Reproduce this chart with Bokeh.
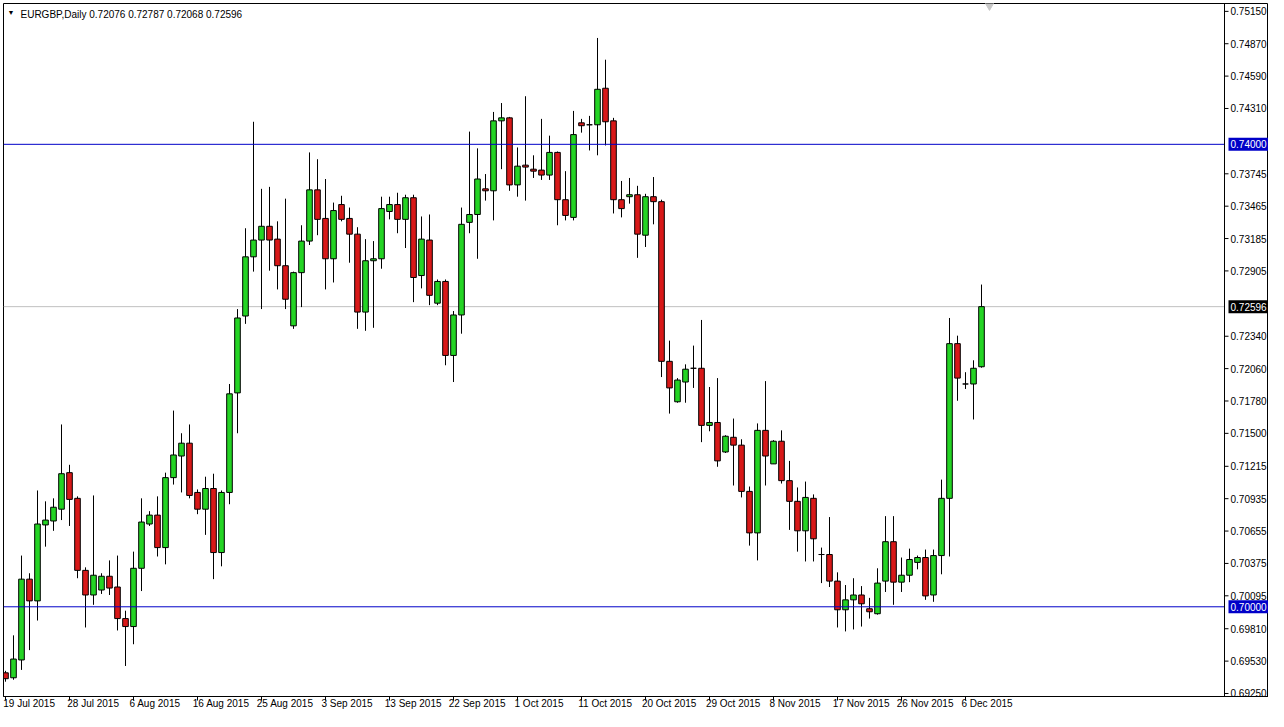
import numpy as np
from bokeh.plotting import figure
from bokeh.models import Range1d, FixedTicker, Span, Label, ColumnDataSource, LinearAxis
from bokeh.core.properties import value
from bokeh.embed import file_html
from bokeh.resources import INLINE

symbol = "EURGBP,Daily"

opens = [0.69429, 0.69386, 0.69540, 0.70239, 0.70051, 0.70708, 0.70742, 0.70844, 0.71160, 0.70938,
         0.70315, 0.70102, 0.70145, 0.70264, 0.70171, 0.69898, 0.69829, 0.70333, 0.70716, 0.70793,
         0.70512, 0.71117, 0.71304, 0.71415, 0.70989, 0.70844, 0.71023, 0.70469, 0.70989, 0.71850,
         0.72515, 0.73027, 0.73172, 0.73291, 0.73180, 0.72950, 0.72430, 0.72890, 0.73163, 0.73606,
         0.73359, 0.73010, 0.73479, 0.73359, 0.73223, 0.72549, 0.72993, 0.73010, 0.73419, 0.73479,
         0.73351, 0.73538, 0.72865, 0.73172, 0.72626, 0.72814, 0.72174, 0.72524, 0.73325, 0.73393,
         0.73615, 0.73598, 0.74203, 0.74229, 0.73649, 0.73820, 0.73785, 0.73777, 0.73734, 0.73930,
         0.73521, 0.73368, 0.74186, 0.74169, 0.74169, 0.74485, 0.74203, 0.73521, 0.73547, 0.73564,
         0.73214, 0.73547, 0.73504, 0.72123, 0.71773, 0.71944, 0.72063, 0.72063, 0.71569, 0.71594,
         0.71339, 0.71466, 0.71398, 0.70998, 0.70639, 0.71526, 0.71236, 0.71432, 0.71091, 0.70912,
         0.70657, 0.70938, 0.70452, 0.70452, 0.70222, 0.69974, 0.70060, 0.70102, 0.69983, 0.69940,
         0.70222, 0.70563, 0.70213, 0.70273, 0.70384, 0.70426, 0.70102, 0.70443, 0.70938, 0.72276,
         0.71927, 0.71927, 0.72076]
highs = [0.69446, 0.69753, 0.70443, 0.70290, 0.71006, 0.70912, 0.70938, 0.71577, 0.71228, 0.70955,
         0.70341, 0.70963, 0.70290, 0.70401, 0.70443, 0.69966, 0.70477, 0.70938, 0.70827, 0.70955,
         0.71160, 0.71697, 0.71501, 0.71577, 0.71015, 0.71125, 0.71151, 0.71006, 0.71927, 0.72575,
         0.73274, 0.74195, 0.73615, 0.73632, 0.73334, 0.73530, 0.72899, 0.73300, 0.73930, 0.73871,
         0.73700, 0.73496, 0.73555, 0.73453, 0.73283, 0.73180, 0.73163, 0.73547, 0.73547, 0.73581,
         0.73564, 0.73564, 0.73376, 0.73393, 0.72831, 0.72831, 0.72558, 0.73453, 0.74110, 0.73965,
         0.73743, 0.74280, 0.74357, 0.74237, 0.73973, 0.74416, 0.73905, 0.74220, 0.74075, 0.73938,
         0.73768, 0.74289, 0.74220, 0.74246, 0.74920, 0.74732, 0.74229, 0.73683, 0.73709, 0.73641,
         0.73572, 0.73717, 0.73521, 0.72302, 0.71978, 0.72097, 0.72259, 0.72481, 0.71901, 0.71978,
         0.71484, 0.71628, 0.71449, 0.71040, 0.71586, 0.71952, 0.71441, 0.71526, 0.71262, 0.71032,
         0.71083, 0.70972, 0.70512, 0.70776, 0.70298, 0.70188, 0.70247, 0.70179, 0.70077, 0.70333,
         0.70784, 0.70784, 0.70426, 0.70503, 0.70443, 0.70495, 0.70495, 0.71100, 0.72498, 0.72345,
         0.72029, 0.72132, 0.72787]
lows = [0.69352, 0.69369, 0.69454, 0.69625, 0.69881, 0.70520, 0.70657, 0.70750, 0.70699, 0.70247,
        0.69821, 0.70017, 0.70111, 0.70102, 0.69795, 0.69488, 0.69676, 0.70136, 0.70699, 0.70435,
        0.70367, 0.71057, 0.70989, 0.70938, 0.70801, 0.70622, 0.70239, 0.70350, 0.70887, 0.71501,
        0.72447, 0.72899, 0.72575, 0.72907, 0.72745, 0.72575, 0.72404, 0.72592, 0.73129, 0.73214,
        0.72745, 0.72805, 0.73334, 0.72976, 0.72404, 0.72387, 0.72413, 0.72924, 0.73351, 0.73231,
        0.73103, 0.72635, 0.72754, 0.72609, 0.72609, 0.72089, 0.71944, 0.72362, 0.73231, 0.73010,
        0.73513, 0.73342, 0.73785, 0.73598, 0.73547, 0.73513, 0.73709, 0.73692, 0.73692, 0.73300,
        0.73342, 0.73342, 0.74101, 0.73947, 0.73905, 0.73990, 0.73402, 0.73368, 0.73487, 0.73018,
        0.73112, 0.73308, 0.71987, 0.71671, 0.71765, 0.71765, 0.71893, 0.71424, 0.71518, 0.71211,
        0.71330, 0.71049, 0.70946, 0.70529, 0.70401, 0.71049, 0.71236, 0.71066, 0.70665, 0.70477,
        0.70392, 0.70392, 0.70205, 0.70171, 0.69821, 0.69787, 0.69804, 0.69829, 0.69898, 0.69932,
        0.70128, 0.70017, 0.70128, 0.70213, 0.70324, 0.70060, 0.70043, 0.70281, 0.70435, 0.71782,
        0.71884, 0.71620, 0.72068]
closes = [0.69378, 0.69548, 0.70239, 0.70051, 0.70716, 0.70750, 0.70861, 0.71151, 0.70929, 0.70315,
          0.70102, 0.70273, 0.70264, 0.70162, 0.69898, 0.69829, 0.70333, 0.70733, 0.70793, 0.70512,
          0.71117, 0.71313, 0.71415, 0.70963, 0.70844, 0.71023, 0.70469, 0.70989, 0.71842, 0.72498,
          0.73027, 0.73172, 0.73291, 0.73172, 0.72950, 0.72660, 0.72890, 0.73163, 0.73606, 0.73351,
          0.73010, 0.73427, 0.73351, 0.73223, 0.72549, 0.72993, 0.73010, 0.73444, 0.73479, 0.73351,
          0.73538, 0.72848, 0.73180, 0.72694, 0.72814, 0.72174, 0.72524, 0.73308, 0.73393, 0.73700,
          0.73598, 0.74203, 0.74229, 0.73649, 0.73811, 0.73803, 0.73768, 0.73734, 0.73930, 0.73521,
          0.73385, 0.74084, 0.74161, 0.74169, 0.74476, 0.74195, 0.73521, 0.73444, 0.73564, 0.73223,
          0.73547, 0.73504, 0.72123, 0.71893, 0.71961, 0.72055, 0.72063, 0.71569, 0.71594, 0.71262,
          0.71475, 0.71398, 0.70998, 0.70639, 0.71526, 0.71304, 0.71432, 0.71091, 0.70912, 0.70657,
          0.70946, 0.70588, 0.70452, 0.70222, 0.69974, 0.70060, 0.70102, 0.70026, 0.69957, 0.70205,
          0.70563, 0.70213, 0.70273, 0.70409, 0.70426, 0.70094, 0.70443, 0.70938, 0.72276, 0.71978,
          0.71927, 0.72063, 0.72596]

date_labels = ["19 Jul 2015", "28 Jul 2015", "6 Aug 2015", "16 Aug 2015", "25 Aug 2015",
               "3 Sep 2015", "13 Sep 2015", "22 Sep 2015", "1 Oct 2015", "11 Oct 2015",
               "20 Oct 2015", "29 Oct 2015", "8 Nov 2015", "17 Nov 2015", "26 Nov 2015",
               "6 Dec 2015"]
date_label_step = 8

price_ticks = [0.69250, 0.69530, 0.69810, 0.70095, 0.70375, 0.70655, 0.70935, 0.71215,
               0.71500, 0.71780, 0.72060, 0.72340, 0.72905, 0.73185, 0.73465, 0.73745,
               0.74310, 0.74590, 0.74870, 0.75150]
level_lines = [0.74000, 0.70000]

BULL = "#24d424"
BEAR = "#d81818"
LEVEL = "#0000c8"
FONT = "Liberation Sans"

W, H = 1268, 711
n = len(closes)
idx = list(range(n))
colors = [BULL if c > o else (BEAR if c < o else "black") for o, c in zip(opens, closes)]
src = ColumnDataSource(dict(
    x=idx, o=opens, h=highs, l=lows, c=closes,
    top=[max(o, c) for o, c in zip(opens, closes)],
    bot=[min(o, c) for o, c in zip(opens, closes)],
    col=colors,
))

# horizontal scale: 8 px per bar over the whole frame, price scale drawn inside its right part
PX = 8.0
frame_w = W - 3
x0 = -0.25
x1 = x0 + frame_w / PX
axis_x = x0 + (frame_w - 44) / PX
y0, y1 = 0.69224, 0.75218

p = figure(width=W, height=H, output_backend="svg", toolbar_location=None,
           x_range=Range1d(x0, x1), y_range=Range1d(y0, y1),
           y_axis_location=None, x_axis_location="below")
p.min_border_left = 3
p.min_border_top = 3
p.min_border_right = 0
p.min_border_bottom = 0
p.background_fill_color = "white"
p.border_fill_color = "white"
p.outline_line_color = "black"
p.outline_line_width = 1
p.grid.visible = False

# date axis: tick marks at the bars
ticks = [k * date_label_step for k in range(len(date_labels))]
xa = p.xaxis[0]
xa.ticker = FixedTicker(ticks=ticks)
xa.major_label_overrides = {t: "" for t in ticks}
xa.major_label_text_font_size = "0px"
xa.major_label_standoff = 0
xa.major_tick_out = 4
xa.major_tick_in = 0
xa.minor_tick_line_color = None
xa.axis_line_color = "black"

# date labels, left-aligned to their tick marks (shifted by half their width)
label_pos = [t + len(lab) * 4.3 / 2 / PX for t, lab in zip(ticks, date_labels)]
xb = LinearAxis(ticker=FixedTicker(ticks=label_pos))
xb.major_label_overrides = {pos: lab for pos, lab in zip(label_pos, date_labels)}
xb.major_tick_line_color = None
xb.major_tick_out = 0
xb.major_tick_in = 0
xb.minor_tick_line_color = None
xb.minor_tick_out = 0
xb.axis_line_color = None
xb.major_label_standoff = -3
xb.major_label_text_font = FONT
xb.major_label_text_font_size = "10px"
xb.major_label_text_color = "black"
p.add_layout(xb, "below")

# bid line, candles, level lines
p.segment(x0=[x0], x1=[axis_x], y0=[closes[-1]], y1=[closes[-1]], line_color="#c0c0c0", line_width=1)
p.segment(x0="x", y0="l", x1="x", y1="h", source=src, line_color="black", line_width=1)
p.vbar(x="x", top="top", bottom="bot", width=0.7, source=src,
       fill_color="col", line_color="black", line_width=1)
p.segment(x0=[x0] * len(level_lines), x1=[axis_x] * len(level_lines),
          y0=level_lines, y1=level_lines, line_color=LEVEL, line_width=1)

# chart shift marker
p.scatter(x=[n], y=[y1], marker="inverted_triangle", size=12,
          fill_color="#c8c8c8", line_color="#c8c8c8")

# price scale
p.add_layout(Span(location=axis_x, dimension="height", line_color="black", line_width=1))
tl = 4 / PX
p.segment(x0=[axis_x] * len(price_ticks), x1=[axis_x + tl] * len(price_ticks),
          y0=price_ticks, y1=price_ticks, line_color="black", line_width=1)
p.text(x=[axis_x + 6 / PX] * len(price_ticks), y=price_ticks,
       text=[f"{t:.5f}" for t in price_ticks], text_font=value(FONT), text_font_size="10px",
       text_color="black", text_baseline="middle", text_align="left")

mark_y = level_lines + [closes[-1]]
mark_col = [LEVEL] * len(level_lines) + ["black"]
p.rect(x=[axis_x + 24 / PX] * len(mark_y), y=mark_y, width=40, height=13,
       width_units="screen", height_units="screen", fill_color=mark_col, line_color=None)
p.text(x=[axis_x + 6 / PX] * len(mark_y), y=mark_y, text=[f"{v:.5f}" for v in mark_y],
       text_font=value(FONT), text_font_size="10px", text_color="white",
       text_baseline="middle", text_align="left")

# header
p.add_layout(Label(x=x0, y=y1, x_offset=4, y_offset=-5, text="\u25bc", text_font=FONT,
                   text_font_size="7px", text_color="black", text_baseline="top"))
header = f"{symbol}  {opens[-1]:.5f} {highs[-1]:.5f} {lows[-1]:.5f} {closes[-1]:.5f}"
p.add_layout(Label(x=x0, y=y1, x_offset=17, y_offset=-5, text=header, text_font=FONT,
                   text_font_size="10px", text_color="black", text_baseline="top"))

open("out.html", "w").write(file_html(p, INLINE))
